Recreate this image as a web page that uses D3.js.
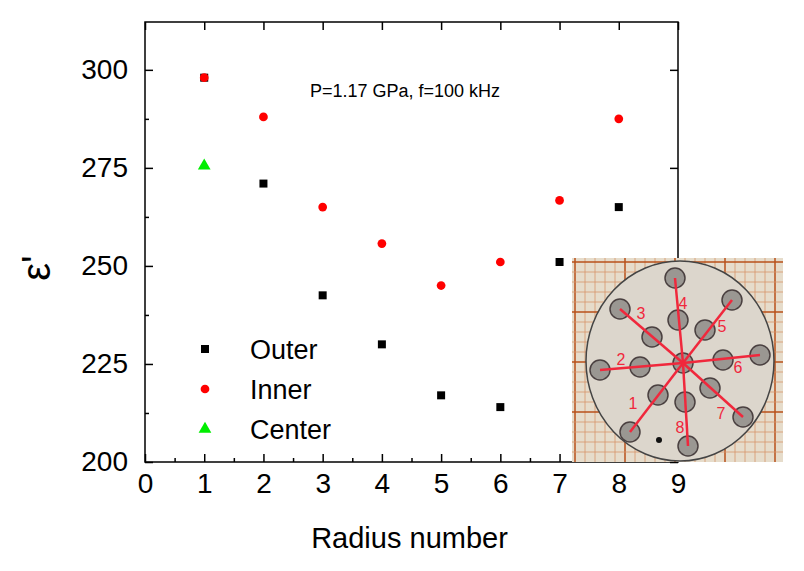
<!DOCTYPE html><html><head><meta charset="utf-8"><script src="https://cdn.jsdelivr.net/npm/d3@7"></script>
<style>body{margin:0;background:#fff}text{font-family:"Liberation Sans",Arial,sans-serif}</style></head><body>
<svg id="c" width="804" height="571"></svg>
<script>
const radius=[1,2,3,4,5,6,7,8];
const outer=[298,271,242.5,230,217,214,251,265];
const inner=[298,288,265,255.7,245,251,266.7,287.5];
const centerX=[1], center=[275.5];
const xTicks=[0,1,2,3,4,5,6,7,8,9];
const yTicks=[200,225,250,275,300];
const svg=d3.select("#c");
const L=145,R=678,T=22,B=462;
const x=d3.scaleLinear().domain([0,9]).range([L,R]);
const y=d3.scaleLinear().domain([200,312.2]).range([B,T]);
svg.append("rect").attr("x",L).attr("y",T).attr("width",R-L).attr("height",B-T).attr("fill","none").attr("stroke","#000").attr("stroke-width",1.5);
const gx=svg.append("g").attr("transform",`translate(0,${B})`).call(d3.axisBottom(x).tickValues(xTicks).tickSizeInner(-8).tickSizeOuter(0).tickPadding(11));
const gxm=svg.append("g").attr("transform",`translate(0,${B})`).call(d3.axisBottom(x).tickValues(d3.range(0.5,9,1)).tickSizeInner(-4).tickSizeOuter(0).tickFormat(""));
const gy=svg.append("g").attr("transform",`translate(${L},0)`).call(d3.axisLeft(y).tickValues(yTicks).tickSizeInner(-8).tickSizeOuter(0).tickPadding(17));
const gym=svg.append("g").attr("transform",`translate(${L},0)`).call(d3.axisLeft(y).tickValues(d3.range(212.5,312,25)).tickSizeInner(-4).tickSizeOuter(0).tickFormat(""));
const gr=svg.append("g").attr("transform",`translate(${R},0)`).call(d3.axisRight(y).tickValues(yTicks).tickSizeInner(-8).tickSizeOuter(0).tickFormat(""));
const gt=svg.append("g").attr("transform",`translate(0,${T})`).call(d3.axisTop(x).tickValues(xTicks).tickSizeInner(-8).tickSizeOuter(0).tickFormat(""));
[gx,gxm,gy,gym,gr,gt].forEach(g=>{g.select(".domain").remove();g.selectAll("line").attr("stroke-width",1.5);g.selectAll("text").attr("font-size",28).attr("fill","#000").style("font-family","Liberation Sans, Arial")});
svg.append("text").attr("x",(L+R)/2-2).attr("y",548).attr("text-anchor","middle").attr("font-size",29).text("Radius number");
svg.append("text").attr("transform","translate(50,268) rotate(-90)").attr("text-anchor","middle").attr("font-size",40).text("ε'");
svg.append("text").attr("x",310).attr("y",97).attr("font-size",18).text("P=1.17 GPa, f=100 kHz");
const sq=d3.symbol().type(d3.symbolSquare).size(64), ci=d3.symbol().type(d3.symbolCircle).size(60), tr=d3.symbol().type(d3.symbolTriangle).size(70);
svg.selectAll(".o").data(radius).join("path").attr("d",sq).attr("transform",(d,i)=>`translate(${x(d)},${y(outer[i])})`).attr("fill","#000");
svg.selectAll(".i").data(radius).join("path").attr("d",ci).attr("transform",(d,i)=>`translate(${x(d)},${y(inner[i])})`).attr("fill","#f00");
svg.selectAll(".c").data(centerX).join("path").attr("d",tr).attr("transform",(d,i)=>`translate(${x(d)},${y(center[i])})`).attr("fill","#0e0");
const leg=[["Outer",sq,"#000"],["Inner",ci,"#f00"],["Center",tr,"#0e0"]];
leg.forEach((l,i)=>{svg.append("path").attr("d",l[1]).attr("fill",l[2]).attr("transform",`translate(205,${349+i*40})`);
svg.append("text").attr("x",250).attr("y",359+i*40).attr("font-size",27).text(l[0]);});
// inset illustration
const ins=svg.append("g");
ins.append("rect").attr("x",572).attr("y",258).attr("width",211).attr("height",204).attr("fill","#e6dccb");
for(let gxp=575;gxp<783;gxp+=10) ins.append("line").attr("x1",gxp).attr("x2",gxp).attr("y1",258).attr("y2",462).attr("stroke",(gxp-575)%50==0?"#b8501a":"#d7956a").attr("stroke-width",(gxp-575)%50==0?1.5:0.8);
for(let gyp=262;gyp<462;gyp+=10) ins.append("line").attr("y1",gyp).attr("y2",gyp).attr("x1",572).attr("x2",783).attr("stroke",(gyp-262)%50==0?"#b8501a":"#d7956a").attr("stroke-width",(gyp-262)%50==0?1.5:0.8);
ins.append("ellipse").attr("cx",680).attr("cy",361).attr("rx",94).attr("ry",100).attr("fill","#dcd6cc").attr("stroke","#444").attr("stroke-width",1.5);
const cen=[683,363];
const outs=[[630,432],[600,370],[620,309],[675,278],[732,300],[760,355],[743,417],[688,446]];
const ins2=[[652,337],[640,367],[678,320],[705,330],[723,360],[710,388],[685,402],[658,395]];
[...outs,...ins2,cen].forEach(p=>ins.append("circle").attr("cx",p[0]).attr("cy",p[1]).attr("r",10).attr("fill","#9a9792").attr("stroke","#4a4040").attr("stroke-width",1.5));
ins.append("circle").attr("cx",659).attr("cy",440).attr("r",3).attr("fill","#111");
outs.forEach(p=>ins.append("line").attr("x1",cen[0]).attr("y1",cen[1]).attr("x2",p[0]).attr("y2",p[1]).attr("stroke","#f0283c").attr("stroke-width",2.5));
const labs=[[633,403],[621,359],[641,313],[683,303],[722,326],[738,367],[721,413],[680,427]];
labs.forEach((p,i)=>ins.append("text").attr("x",p[0]).attr("y",p[1]+6).attr("text-anchor","middle").attr("font-size",16).attr("fill","#f0283c").text(i+1));
</script></body></html>
